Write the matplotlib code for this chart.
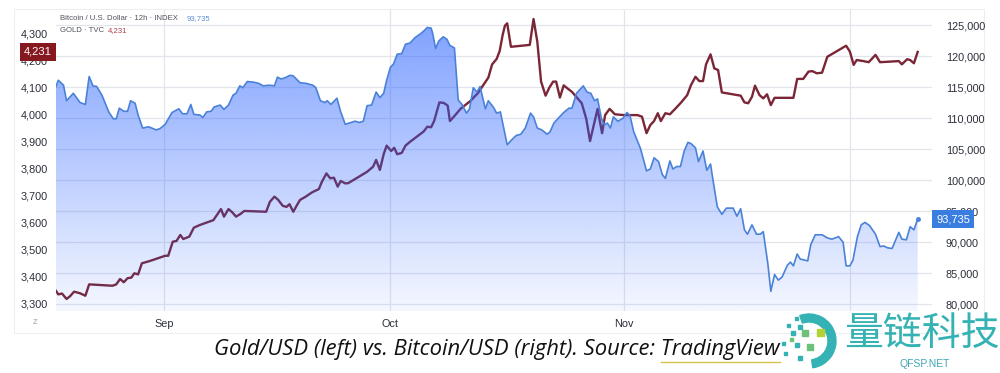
#gold vs bitcoin overlay, tradingview style
import numpy as np
import pandas as pd
import matplotlib as mpl
import matplotlib.pyplot as plt
from matplotlib.patches import Rectangle, Wedge

mpl.use("Agg")

# days counted from 1 Sep 2025 (12h chart)
start = pd.Timestamp("2025-09-01")

btc_days = [-14.4, -14.1, -13.4, -13.0, -12.1, -11.2, -10.5, -10.0, -9.5, -9.0,
            -8.3, -7.4, -6.8, -6.4, -6.0, -5.4, -4.9, -4.5, -3.9, -3.5,
            -2.9, -2.1, -1.1, -0.6, 0.1, 1.0, 1.9, 2.4, 3.0, 3.5,
            3.9, 4.7, 5.1, 5.6, 6.2, 6.6, 7.4, 7.9, 8.5, 9.1,
            9.5, 10.0, 10.4, 11.0, 11.8, 12.5, 13.1, 13.9, 14.6, 15.0,
            15.5, 16.0, 16.7, 17.1, 18.0, 18.8, 19.7, 20.1, 20.7, 21.3,
            21.6, 22.1, 22.9, 23.4, 24.0, 24.8, 25.3, 25.9, 26.4, 26.9,
            27.5, 28.1, 28.6, 29.1, 29.5, 30.0, 30.4, 30.9, 31.5, 32.0,
            32.6, 33.3, 33.9, 34.4, 34.9, 35.4, 35.6, 36.0, 36.4, 37.0,
            37.5, 37.9, 38.5, 39.0, 39.5, 40.1, 40.5, 41.0, 41.5, 41.9,
            42.6, 43.0, 43.7, 44.1, 44.6, 45.5, 46.1, 46.7, 47.3, 47.9,
            48.6, 49.0, 49.5, 50.1, 50.8, 51.2, 51.7, 52.3, 53.0, 53.7,
            54.1, 54.7, 55.6, 56.1, 56.6, 57.1, 57.5, 58.0, 58.4, 58.8,
            59.2, 59.6, 60.2, 60.9, 61.4, 61.8, 62.3, 63.2, 64.0, 64.5,
            65.0, 65.6, 66.1, 66.5, 67.1, 67.5, 68.0, 68.5, 69.0, 69.5,
            69.9, 70.5, 70.9, 71.5, 72.0, 72.5, 72.8, 73.4, 74.0, 74.6,
            75.5, 76.0, 76.5, 77.0, 77.4, 78.0, 78.6, 79.1, 79.5, 80.1,
            80.5, 81.0, 81.5, 82.0, 82.7, 83.1, 83.5, 84.0, 84.4, 85.4,
            85.8, 86.4, 87.3, 88.0, 88.6, 89.5, 90.1, 90.5, 91.0, 91.4,
            92.0, 92.5, 93.0, 93.6, 94.4, 95.0, 95.5, 96.0, 96.6, 97.5,
            97.9, 98.5, 99.0, 99.5, 100.0]
btc_price = [115100, 116100, 115300, 112800, 114000, 112500, 112200, 116700, 115200, 115100,
             113700, 111000, 109900, 109900, 111600, 111100, 111100, 112800, 112400, 110500,
             108400, 108600, 108100, 108300, 109000, 110900, 111500, 110700, 110700, 112200,
             110600, 110500, 110100, 111000, 111100, 111800, 112100, 111400, 112100, 113700,
             114000, 115200, 114900, 115900, 115800, 115600, 115200, 115300, 115200, 116600,
             116300, 116500, 116900, 116800, 115700, 115600, 115300, 114900, 112800, 112500,
             112800, 112200, 113200, 111000, 109000, 109300, 109500, 109300, 109500, 112000,
             112100, 114200, 113300, 114000, 116100, 118200, 118700, 120300, 120400, 121900,
             122100, 123000, 123500, 124000, 124600, 124500, 123700, 121200, 122400, 123100,
             122700, 121700, 121300, 112900, 112200, 110800, 111500, 114900, 114200, 115100,
             111500, 112800, 111700, 110800, 111000, 105700, 106500, 107200, 107400, 108400,
             110800, 110200, 108400, 108100, 107400, 107800, 109200, 110000, 110900, 111600,
             111600, 114000, 115200, 114200, 114000, 112800, 113100, 110000, 108900, 109200,
             108400, 110200, 109500, 110000, 110900, 110400, 107800, 105100, 101500, 101800,
             103600, 103000, 100900, 100300, 103100, 101800, 102200, 102200, 104700, 106100,
             105900, 105200, 103000, 104700, 101600, 102600, 100200, 95700, 94500, 95500,
             95500, 94200, 95400, 92000, 91300, 92800, 91300, 91300, 91700, 86600,
             82100, 84800, 83900, 84400, 86300, 86800, 86200, 88100, 87300, 87000,
             89600, 91200, 91200, 90700, 90500, 90900, 90000, 86200, 86200, 87100,
             90900, 92800, 93200, 92700, 91300, 89300, 89400, 89100, 89000, 91600,
             90500, 90400, 92500, 92000, 93735]

gold_days = [-14.4, -14.1, -13.6, -13.0, -12.5, -12.0, -11.2, -10.5, -10.0, -6.9,
             -6.4, -5.9, -5.4, -4.9, -4.4, -4.0, -3.5, -3.0, -1.9, 0.1,
             0.5, 1.1, 1.6, 2.1, 2.5, 3.3, 3.9, 4.7, 6.5, 7.5,
             7.9, 8.5, 9.0, 9.5, 10.1, 10.6, 13.5, 14.0, 14.6, 15.1,
             15.7, 16.2, 16.6, 17.1, 17.6, 18.0, 18.7, 19.6, 20.5, 20.9,
             21.5, 22.0, 22.5, 23.0, 23.4, 24.0, 24.4, 25.6, 26.9, 27.7,
             28.1, 28.6, 29.1, 29.5, 30.1, 30.5, 30.9, 31.5, 32.0, 32.6,
             33.5, 34.4, 34.9, 35.4, 35.8, 36.5, 37.1, 37.6, 37.9, 38.6,
             39.3, 40.6, 41.6, 42.4, 43.0, 43.5, 44.1, 44.5, 44.9, 45.2,
             45.5, 46.0, 48.5, 49.0, 49.5, 50.0, 50.6, 51.1, 51.6, 52.0,
             52.5, 53.0, 53.6, 54.1, 55.4, 56.0, 56.5, 57.5, 58.1, 58.5,
             59.1, 59.8, 61.0, 62.8, 63.4, 64.0, 64.5, 65.0, 65.5, 65.9,
             66.5, 67.1, 67.8, 68.6, 69.4, 69.9, 70.5, 71.0, 71.5, 71.9,
             72.5, 73.0, 73.5, 74.0, 76.5, 77.0, 77.5, 78.0, 78.4, 79.0,
             79.5, 80.0, 80.5, 81.0, 83.5, 84.0, 84.8, 85.5, 86.0, 86.6,
             87.3, 88.0, 90.5, 91.0, 91.5, 91.9, 92.8, 93.5, 94.4, 95.0,
             97.5, 97.9, 98.6, 99.0, 99.5, 100.0]
gold_price = [3346, 3333, 3336, 3316, 3327, 3343, 3337, 3328, 3370, 3365,
              3370, 3390, 3378, 3393, 3395, 3411, 3407, 3448, 3457, 3476,
              3476, 3528, 3531, 3553, 3538, 3547, 3580, 3590, 3608, 3649,
              3621, 3649, 3637, 3621, 3631, 3642, 3639, 3676, 3695, 3683,
              3661, 3657, 3667, 3639, 3664, 3683, 3694, 3711, 3723, 3750,
              3781, 3763, 3765, 3732, 3753, 3744, 3745, 3765, 3787, 3806,
              3831, 3794, 3852, 3884, 3864, 3876, 3852, 3857, 3884, 3898,
              3917, 3936, 3954, 3952, 3975, 4044, 4042, 4032, 3975, 3997,
              4020, 4049, 4078, 4111, 4136, 4185, 4205, 4234, 4294, 4328,
              4337, 4250, 4257, 4353, 4269, 4121, 4069, 4099, 4121, 4121,
              4062, 4107, 4094, 4083, 4041, 3983, 3901, 4020, 3930, 3997,
              4020, 4000, 3997, 3997, 3991, 3930, 3960, 3975, 4004, 3975,
              4004, 4000, 4020, 4044, 4071, 4108, 4139, 4123, 4123, 4185,
              4222, 4170, 4164, 4081, 4069, 4044, 4041, 4065, 4106, 4071,
              4059, 4074, 4034, 4061, 4061, 4131, 4131, 4158, 4160, 4152,
              4154, 4213, 4254, 4232, 4183, 4201, 4197, 4193, 4220, 4193,
              4197, 4185, 4204, 4201, 4189, 4231]

gold_ticks = list(range(3300, 4301, 100))
btc_ticks = list(range(80000, 125001, 5000))
month_starts = ["2025-09-01", "2025-10-01", "2025-11-01", "2025-12-01"]
month_labels = ["Sep", "Oct", "Nov", ""]

btc_x = start + pd.to_timedelta(btc_days, unit="D")
gold_x = start + pd.to_timedelta(gold_days, unit="D")
xlim = (start + pd.Timedelta(days=-14.4), start + pd.Timedelta(days=101.9))

W, H = 1000, 373
fig = plt.figure(figsize=(W / 100, H / 100), dpi=100)
rect = [56 / W, 1 - 311 / H, (932 - 56) / W, (311 - 9) / H]

tick_font = dict(family="Liberation Sans", size=7.8, color="#2a2e39")

# grid layer (aligned to bitcoin scale, like TradingView)
gax = fig.add_axes(rect, zorder=0)
gax.set_xlim(xlim)
gax.set_ylim(78925, 127578)
for y in btc_ticks:
    gax.axhline(y, color="#e3e5ec", lw=0.9)
for m in month_starts:
    gax.axvline(pd.Timestamp(m), color="#e3e5ec", lw=0.9)
gax.axis("off")

# gold, left axis
ax = fig.add_axes(rect, zorder=1)
ax.patch.set_visible(False)
ax.plot(gold_x, gold_price, color="#7b2636", lw=1.7, solid_joinstyle="round")
ax.set_xlim(xlim)
ax.set_ylim(3271.4, 4390)
ax.set_yticks(gold_ticks)
ax.set_yticklabels([f"{v:,}" for v in gold_ticks], fontdict=tick_font)
ax.set_xticks(pd.to_datetime(month_starts))
ax.set_xticklabels(month_labels, fontdict=tick_font)
ax.tick_params(length=0, pad=6)
ax.tick_params(axis="x", pad=6)
for s in ax.spines.values():
    s.set_visible(False)

# bitcoin, right axis, gradient area drawn over gold
bx = fig.add_axes(rect, zorder=2)
bx.patch.set_visible(False)
bx.set_xlim(xlim)
bx.set_ylim(78925, 127578)
ymin, ymax = bx.get_ylim()
fill = bx.fill_between(btc_x, btc_price, ymin, facecolor="none", edgecolor="none")
grad = np.zeros((256, 1, 4))
grad[:, :, 0] = 41 / 255
grad[:, :, 1] = 98 / 255
grad[:, :, 2] = 1.0
grad[:, 0, 3] = np.linspace(0.62, 0.05, 256)
x0, x1 = mpl.dates.date2num(xlim[0]), mpl.dates.date2num(xlim[1])
img = bx.imshow(grad, aspect="auto", extent=[x0, x1, ymin, ymax], origin="upper", zorder=1)
img.set_clip_path(fill.get_paths()[0], transform=bx.transData)
bx.plot(btc_x, btc_price, color="#4a82d8", lw=1.2, zorder=2)
bx.plot(btc_x[-1:], btc_price[-1:], "o", color="#4a82d8", ms=2.5, zorder=3)
bx.set_xlim(xlim)
bx.set_ylim(ymin, ymax)
bx.yaxis.tick_right()
bx.set_yticks(btc_ticks)
bx.set_yticklabels([f"{v:,}" for v in btc_ticks], fontdict=tick_font)
bx.set_xticks([])
bx.tick_params(length=0, pad=10)
for s in bx.spines.values():
    s.set_visible(False)

# price tags
ax.text(-0.005, gold_price[-1], f"{gold_price[-1]:,}", transform=ax.get_yaxis_transform(),
        ha="right", va="center", color="white", family="Liberation Sans", size=8,
        bbox=dict(boxstyle="square,pad=0.35", fc="#86191f", ec="none"), zorder=5)
bx.text(1.005, btc_price[-1], f"{btc_price[-1]:,}", transform=bx.get_yaxis_transform(),
        ha="left", va="center", color="white", family="Liberation Sans", size=8,
        bbox=dict(boxstyle="square,pad=0.35", fc="#3a7de0", ec="none"), zorder=5)

# legend lines
fig.text(60 / W, 1 - 19 / H, "Bitcoin / U.S. Dollar · 12h · INDEX", family="Liberation Sans",
         size=5.6, color="#50535e", va="center")
fig.text(187 / W, 1 - 19 / H, f"{btc_price[-1]:,}", family="Liberation Sans",
         size=5.6, color="#5b8fd6", va="center")
fig.text(60 / W, 1 - 31 / H, "GOLD · TVC", family="Liberation Sans",
         size=5.6, color="#50535e", va="center")
fig.text(108 / W, 1 - 31 / H, f"{gold_price[-1]:,}", family="Liberation Sans",
         size=5.6, color="#b0404e", va="center")
fig.text(35 / W, 1 - 322 / H, "Z", family="Liberation Sans", size=5.5, color="#9a9ca3",
         ha="center", va="center")

# faint frame around the chart
fig.patches.append(Rectangle((14 / W, 1 - 333 / H), (984 - 14) / W, (333 - 9) / H,
                             transform=fig.transFigure, fill=False, ec="#eeeeee", lw=0.8))

# caption
cap_size = 15.8
cap = fig.text(497 / W, 1 - 350 / H, "Gold/USD (left) vs. Bitcoin/USD (right). Source: TradingView",
               family="Open Sans", style="italic", size=cap_size, color="#111111",
               ha="center", va="center")
fig.canvas.draw()
r = fig.canvas.get_renderer()
cb = cap.get_window_extent(r)
probe = fig.text(0, 0, "TradingView", family="Open Sans", style="italic", size=cap_size)
pw = probe.get_window_extent(r).width
probe.remove()
fig.add_artist(plt.Line2D([(cb.x1 - pw) / W, cb.x1 / W], [1 - 362 / H, 1 - 362 / H],
                          transform=fig.transFigure, color="#d8c24a", lw=1))

# watermark
teal = "#35b2b4"
fig.text(844 / W, 1 - 334 / H, "量链科技", family=["Noto Sans CJK SC", "DejaVu Sans"],
         size=28, color=teal, va="center", ha="left")
fig.text(925 / W, 1 - 364 / H, "QFSP.NET", family="Liberation Sans", size=7.5,
         color="#3fa6b4", va="center", ha="center")
lax = fig.add_axes([775 / W, 0, 65 / W, 65 / H], zorder=10)
lax.set_xlim(775, 840)
lax.set_ylim(373, 308)
lax.axis("off")
lax.add_patch(Wedge((809, 341), 27, -110, 82, width=8, color=teal))
squares = [(796, 318, 3, teal), (788, 325, 3, teal), (800, 327, 4, teal),
           (805, 333, 6, "#6cc27a"), (820, 332, 7, "#b4d236"), (793, 333, 4, teal),
           (783, 343, 3, teal), (797, 345, 4, teal), (810, 347, 6, "#6cc27a"),
           (800, 358, 4, teal), (785, 353, 3, teal), (791, 339, 3, "#6cc27a")]
for cx, cy, s, c in squares:
    lax.add_patch(Rectangle((cx - s / 2, cy - s / 2), s, s, color=c))

fig.savefig("out.png", dpi=100)
